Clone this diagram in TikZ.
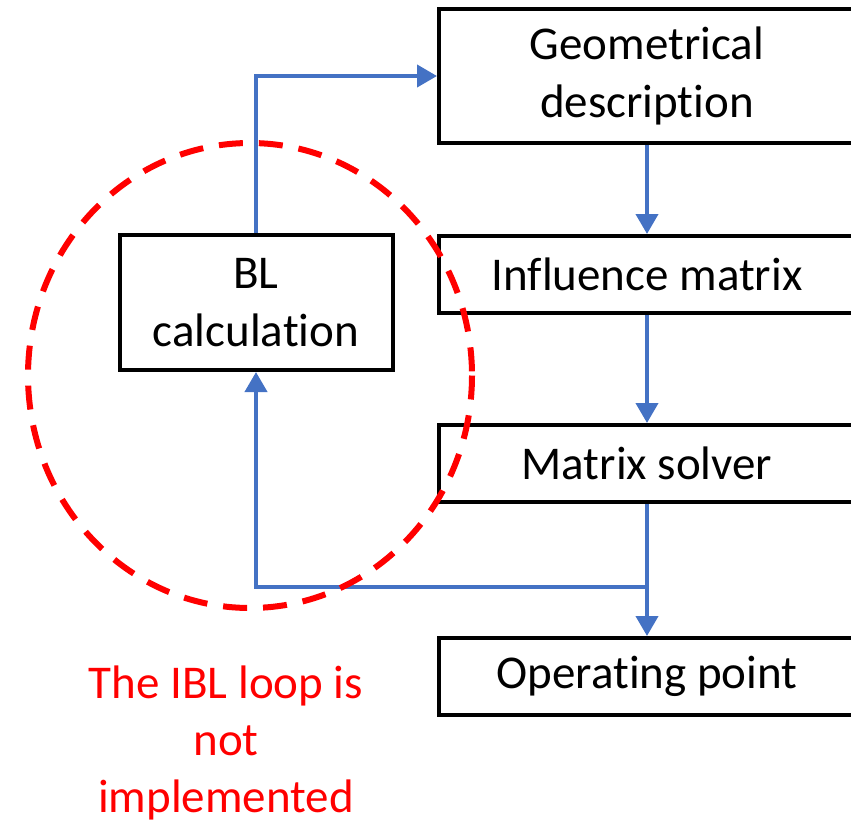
\documentclass[tikz,border=0pt]{standalone}
\usepackage{fontspec}
\setmainfont{Carlito}[RawFeature={-liga;-clig;-dlig;-calt}]
\usepackage{xcolor}
\usetikzlibrary{arrows.meta, positioning}

\definecolor{flowblue}{HTML}{4472C4}

\begin{document}
\begin{tikzpicture}[
    x=1pt, y=-1pt,
    box/.style={draw, line width=4pt, minimum width=416pt, minimum height=77pt, align=center, font=\fontsize{47}{58}\selectfont},
    flow/.style={flowblue, line width=4pt, -{Triangle[length=20pt, width=22pt]}},
]
\useasboundingbox (0,0) rectangle (851,820);

% main chain on the right
\node[box, minimum height=134pt] (geom) at (647,76) {Geometrical\\description};
\node[box, below=89pt of geom] (infl) {Influence matrix};
\node[box, below=108pt of infl] (solver) {Matrix solver};
\node[box, below=132pt of solver] (oppoint) {Operating point};

% boundary layer box on the left
\node[box, minimum width=273pt, minimum height=135pt] (blcalc) at (256,302.5) {BL\\calculation};

\draw[flow] (geom) -- (infl);
\draw[flow] (infl) -- (solver);
\draw[flow] (solver) -- (oppoint);
\coordinate (split) at (solver.south |- 0,587);
\draw[flow] (split) -| (blcalc.south);
\draw[flow] (blcalc.north) |- (geom.west);

% loop that is left out
\draw[red, line width=6pt, dash pattern=on 24pt off 16pt] (250,375.5) ellipse [x radius=222, y radius=232.5];
\node[text=red, align=center, font=\fontsize{47}{57}\selectfont] (note) at (226,743) {The IBL loop is\\not\\implemented};
\end{tikzpicture}
\end{document}
